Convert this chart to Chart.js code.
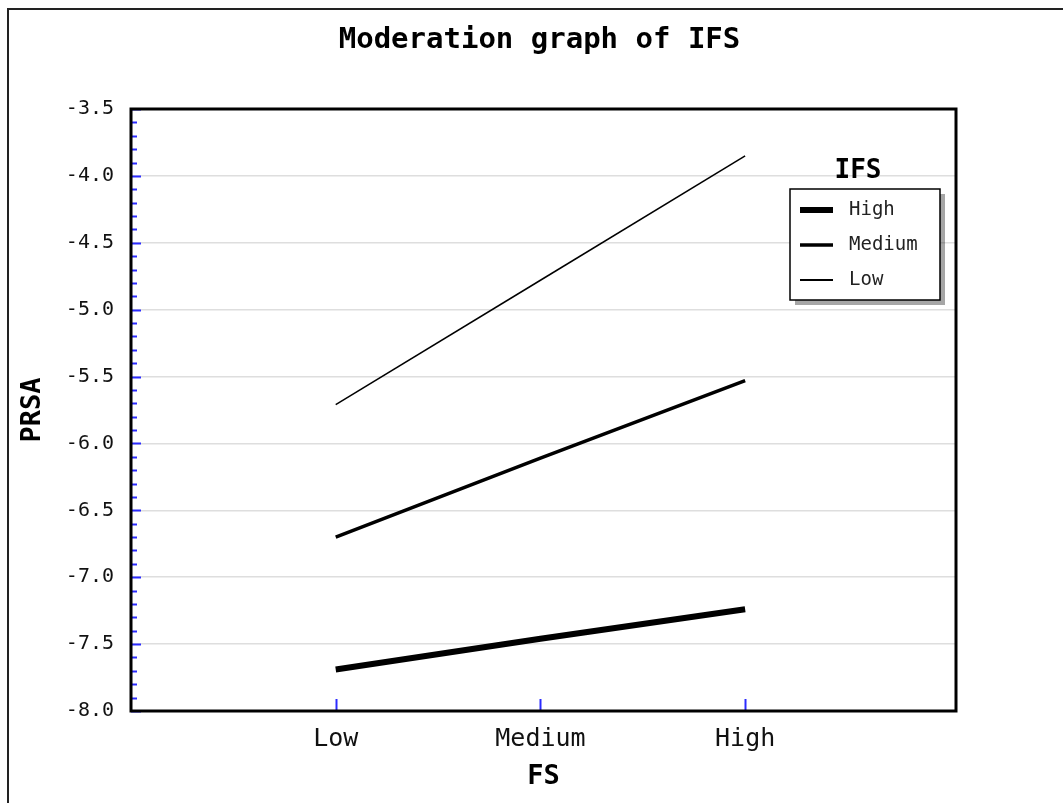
<!DOCTYPE html>
<html>
<head>
<meta charset="utf-8">
<script src="https://cdn.jsdelivr.net/npm/chart.js@4"></script>
<style>
    body { margin: 0; background: #fff; }
    #wrap { width: 1063px; height: 803px; position: relative; }
</style>
</head>
<body>
<div id="wrap"><canvas id="myChart"></canvas></div>
<script>
// FS levels on the x axis, IFS levels as the three lines
var fsLevels = ['Low', 'Medium', 'High'];
var ifsLevels = ['High', 'Medium', 'Low'];
var prsaHigh = [-7.69, -7.46, -7.24];
var prsaMedium = [-6.70, -6.11, -5.53];
var prsaLow = [-5.71, -4.78, -3.85];
var yTicks = [-8.0, -7.5, -7.0, -6.5, -6.0, -5.5, -5.0, -4.5, -4.0, -3.5];
var chartTitle = 'Moderation graph of IFS';

var mono = "'DejaVu Sans Mono', monospace";

function toPoints(values) {
    return values.map(function (v, i) { return { x: i + 1, y: v }; });
}

function isMajor(v) {
    return Math.abs(v * 2 - Math.round(v * 2)) < 1e-6;
}

// outer border, title, frame, inner blue tick marks, legend box
var decor = {
    id: 'decor',
    beforeDraw: function (chart) {
        var c = chart.ctx;
        c.save();
        c.strokeStyle = '#222';
        c.lineWidth = 2;
        c.strokeRect(8, 9, chart.width + 20, chart.height + 20);
        // title centred on the whole picture
        c.fillStyle = '#000';
        c.font = 'bold 29px ' + mono;
        c.textAlign = 'center';
        c.textBaseline = 'middle';
        c.fillText(chartTitle, chart.width / 2 + 8, 40);
        c.restore();
    },
    afterDatasetsDraw: function (chart) {
        var c = chart.ctx;
        var a = chart.chartArea;
        var ys = chart.scales.y;
        var xs = chart.scales.x;
        c.save();
        // blue ticks
        c.strokeStyle = '#2b2bff';
        c.lineWidth = 2;
        ys.ticks.forEach(function (t) {
            var py = Math.round(ys.getPixelForValue(t.value)) + 0.5;
            var len = isMajor(t.value) ? 10 : 6;
            c.beginPath();
            c.moveTo(a.left, py);
            c.lineTo(a.left + len, py);
            c.stroke();
        });
        xs.ticks.forEach(function (t) {
            var px = Math.round(xs.getPixelForValue(t.value)) + 0.5;
            c.beginPath();
            c.moveTo(px, a.bottom);
            c.lineTo(px, a.bottom - 12);
            c.stroke();
        });
        // frame
        c.strokeStyle = '#000';
        c.lineWidth = 3;
        c.strokeRect(a.left, a.top, a.right - a.left, a.bottom - a.top);

        // legend
        var bx = a.right - 166, by = a.top + 80, bw = 150, bh = 111;
        c.fillStyle = 'rgba(0,0,0,0.35)';
        c.fillRect(bx + 5, by + 5, bw, bh);
        c.fillStyle = '#fff';
        c.fillRect(bx, by, bw, bh);
        c.strokeStyle = '#000';
        c.lineWidth = 1.5;
        c.strokeRect(bx, by, bw, bh);

        c.fillStyle = '#000';
        c.font = 'bold 26px ' + mono;
        c.textAlign = 'center';
        c.textBaseline = 'middle';
        c.fillText('IFS', bx + 68, by - 18);

        c.font = '19px ' + mono;
        c.textAlign = 'left';
        c.fillStyle = '#222';
        chart.data.datasets.forEach(function (ds, i) {
            var ly = by + 21 + i * 35;
            c.strokeStyle = '#000';
            c.lineWidth = Math.max(ds.borderWidth, 2);
            c.beginPath();
            c.moveTo(bx + 10, ly);
            c.lineTo(bx + 43, ly);
            c.stroke();
            c.fillText(ds.label, bx + 59, ly);
        });
        c.restore();
    }
};

var ctx = document.getElementById('myChart').getContext('2d');
var myChart = new Chart(ctx, {
    type: 'line',
    data: {
        datasets: [
            { label: ifsLevels[0], data: toPoints(prsaHigh), borderColor: '#000', borderWidth: 6 },
            { label: ifsLevels[1], data: toPoints(prsaMedium), borderColor: '#000', borderWidth: 3.5 },
            { label: ifsLevels[2], data: toPoints(prsaLow), borderColor: '#000', borderWidth: 1.5 }
        ]
    },
    options: {
        responsive: true,
        maintainAspectRatio: false,
        animation: false,
        elements: { point: { radius: 0 }, line: { tension: 0 } },
        layout: { padding: { left: 0, right: 107, top: 109, bottom: 0 } },
        plugins: {
            legend: { display: false },
            tooltip: { enabled: false },
            title: { display: false }
        },
        scales: {
            x: {
                type: 'linear',
                min: 0,
                max: 4.03,
                afterBuildTicks: function (scale) {
                    scale.ticks = fsLevels.map(function (n, i) { return { value: i + 1 }; });
                },
                afterFit: function (scale) { scale.height = 92; },
                grid: { display: false, drawTicks: false },
                border: { display: false },
                ticks: {
                    color: '#111',
                    padding: 13,
                    font: { family: mono, size: 25 },
                    callback: function (v) { return fsLevels[v - 1]; }
                },
                title: {
                    display: true,
                    text: 'FS',
                    color: '#000',
                    font: { family: mono, size: 27, weight: 'bold' },
                    padding: { top: 0, bottom: 10 }
                }
            },
            y: {
                min: yTicks[0],
                max: yTicks[yTicks.length - 1],
                afterFit: function (scale) { scale.width = 131; },
                grid: {
                    drawTicks: false,
                    color: function (c) { return isMajor(c.tick.value) ? '#dedede' : 'rgba(0,0,0,0)'; },
                    lineWidth: 1.5
                },
                border: { display: false },
                ticks: {
                    stepSize: 0.1,
                    autoSkip: false,
                    color: '#111',
                    padding: 17,
                    font: { family: mono, size: 20 },
                    callback: function (v) { return isMajor(v) ? v.toFixed(1) : ''; }
                },
                title: {
                    display: true,
                    text: 'PRSA',
                    color: '#000',
                    font: { family: mono, size: 27, weight: 'bold' },
                    padding: { top: 17, bottom: 0 }
                }
            }
        }
    },
    plugins: [decor]
});
</script>
</body>
</html>
